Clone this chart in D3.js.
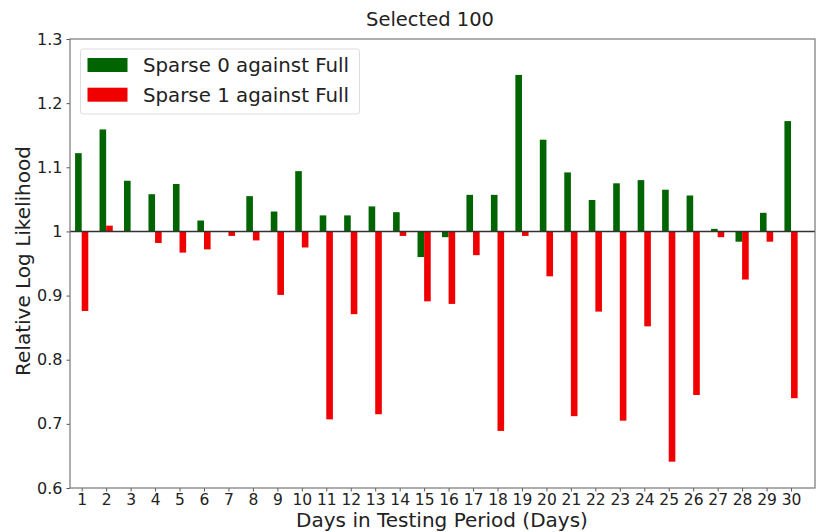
<!DOCTYPE html>
<html>
<head>
<meta charset="utf-8">
<title>Selected 100</title>
<style>
  body { margin: 0; background: #fff; }
  svg { font-family: "DejaVu Sans", sans-serif; }
</style>
</head>
<body>
<script src="https://d3js.org/d3.v7.min.js"></script>
<script>
// values
const days = d3.range(1, 31);
const sparse0 = [1.122, 1.159, 1.079, 1.058, 1.074, 1.017, 1.0, 1.055, 1.031, 1.094,
                 1.025, 1.025, 1.039, 1.030, 0.960, 0.991, 1.057, 1.057, 1.244, 1.143,
                 1.092, 1.049, 1.075, 1.080, 1.065, 1.056, 1.004, 0.984, 1.029, 1.172];
const sparse1 = [0.876, 1.009, 1.0, 0.982, 0.967, 0.972, 0.993, 0.986, 0.901, 0.975,
                 0.707, 0.871, 0.715, 0.993, 0.891, 0.887, 0.963, 0.689, 0.993, 0.930,
                 0.712, 0.875, 0.705, 0.852, 0.641, 0.745, 0.991, 0.925, 0.984, 0.740];
const yTicks = [0.6, 0.7, 0.8, 0.9, 1, 1.1, 1.2, 1.3];
const seriesNames = ["Sparse 0 against Full", "Sparse 1 against Full"];
const colors = ["#006400", "#f00000"];

const width = 816, height = 532;
const margin = {left: 70, right: 1, top: 39, bottom: 44};
const barW = 0.27;

const svg = d3.select("body").append("svg")
    .attr("width", width)
    .attr("height", height);

const x = d3.scaleLinear()
    .domain([0.522, 30.98])
    .range([margin.left, width - margin.right]);

const y = d3.scaleLinear()
    .domain([0.6, 1.3])
    .range([height - margin.bottom, margin.top]);

// bars, both hanging from 1
const series = [sparse0, sparse1];
series.forEach(function(vals, s) {
    svg.append("g").selectAll("rect")
        .data(vals)
        .enter().append("rect")
        .attr("x", (d, i) => x(days[i] + (s === 0 ? -barW : 0)))
        .attr("width", x(1 + barW) - x(1))
        .attr("y", d => y(Math.max(d, 1)))
        .attr("height", d => Math.abs(y(d) - y(1)))
        .attr("fill", colors[s]);
});

// reference line at 1
svg.append("line")
    .attr("x1", margin.left).attr("x2", width - margin.right)
    .attr("y1", y(1)).attr("y2", y(1))
    .attr("stroke", "#333").attr("stroke-width", 1.5);

// axes
const xAxis = svg.append("g")
    .attr("transform", `translate(0,${height - margin.bottom})`)
    .call(d3.axisBottom(x).tickValues(days).tickFormat(d3.format("d")).tickSize(3.5).tickPadding(2.5));
const yAxis = svg.append("g")
    .attr("transform", `translate(${margin.left},0)`)
    .call(d3.axisLeft(y).tickValues(yTicks).tickFormat(d => d === 1 ? "1" : d3.format(".1f")(d)).tickSize(3.5).tickPadding(4));

[xAxis, yAxis].forEach(g => {
    g.select(".domain").remove();
    g.selectAll(".tick line").attr("stroke", "#555");
    g.selectAll(".tick text").attr("fill", "#222").style("font-size", "16px").style("font-family", "DejaVu Sans");
});
xAxis.selectAll(".tick text").style("font-size", "15.5px");

// frame
svg.append("rect")
    .attr("x", margin.left).attr("y", margin.top)
    .attr("width", width - margin.right - margin.left)
    .attr("height", height - margin.bottom - margin.top)
    .attr("fill", "none").attr("stroke", "#777").attr("stroke-width", 1.2);

// title and labels
svg.append("text")
    .attr("x", 430).attr("y", 26)
    .attr("text-anchor", "middle").attr("fill", "#222")
    .style("font-size", "19.5px").text("Selected 100");

svg.append("text")
    .attr("x", 442).attr("y", 527)
    .attr("text-anchor", "middle").attr("fill", "#222")
    .style("font-size", "20px").text("Days in Testing Period (Days)");

svg.append("text")
    .attr("transform", "translate(29.5,261) rotate(-90)")
    .attr("text-anchor", "middle").attr("fill", "#222")
    .style("font-size", "20px").text("Relative Log Likelihood");

// legend
const legend = svg.append("g");
legend.append("rect")
    .attr("x", 80.5).attr("y", 49).attr("width", 279).attr("height", 65)
    .attr("rx", 3).attr("fill", "#fff").attr("fill-opacity", 0.8)
    .attr("stroke", "#ddd");
seriesNames.forEach(function(name, i) {
    legend.append("rect")
        .attr("x", 87.5).attr("y", 58 + i * 29.7).attr("width", 40).attr("height", 14)
        .attr("fill", colors[i]);
    legend.append("text")
        .attr("x", 143).attr("y", 72 + i * 29.7)
        .attr("fill", "#222").style("font-size", "19.8px").text(name);
});
</script>
</body>
</html>
